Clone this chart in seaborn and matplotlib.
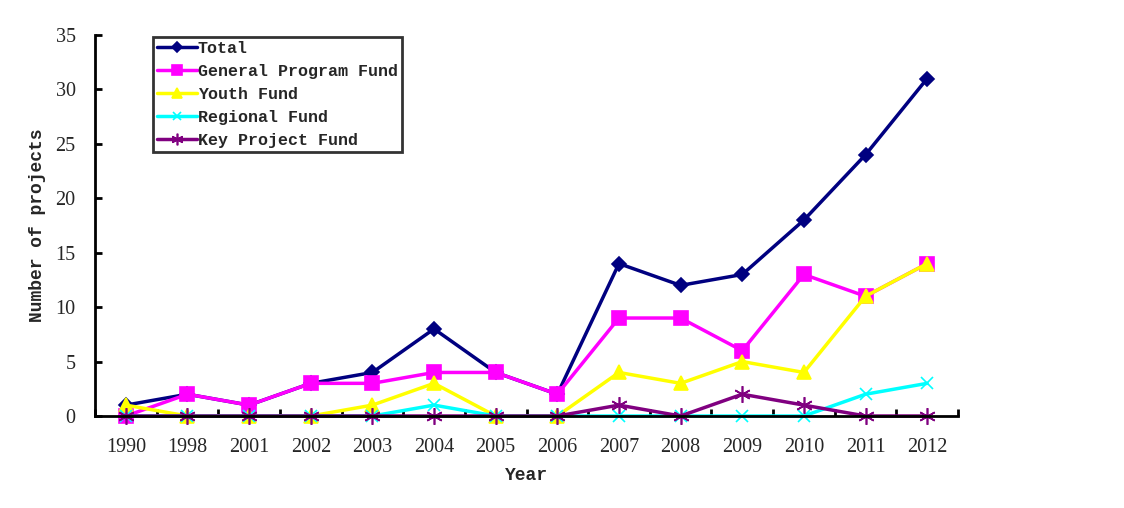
import matplotlib
matplotlib.use("Agg")
import matplotlib.pyplot as plt
import seaborn as sns
import pandas as pd
import numpy as np

years = ["1990", "1998", "2001", "2002", "2003", "2004", "2005", "2006",
         "2007", "2008", "2009", "2010", "2011", "2012"]
total = [1, 2, 1, 3, 4, 8, 4, 2, 14, 12, 13, 18, 24, 31]
general = [0, 2, 1, 3, 3, 4, 4, 2, 9, 9, 6, 13, 11, 14]
youth = [1, 0, 0, 0, 1, 3, 0, 0, 4, 3, 5, 4, 11, 14]
regional = [0, 0, 0, 0, 0, 1, 0, 0, 0, 0, 0, 0, 2, 3]
key_project = [0, 0, 0, 0, 0, 0, 0, 0, 1, 0, 2, 1, 0, 0]

series = [
    ("Total", total, "#000080", "D", 7),
    ("General Program Fund", general, "#FF00FF", "s", 10),
    ("Youth Fund", youth, "#FFFF00", "^", 10),
    ("Regional Fund", regional, "#00FFFF", "x", 9),
    ("Key Project Fund", key_project, "#800080", (6, 2, 0), 12),
]

sns.set_style("white")
plt.rcParams["font.family"] = ["Liberation Mono", "DejaVu Sans Mono"]

fig = plt.figure(figsize=(11.24, 5.08), dpi=100)
ax = fig.add_axes([95 / 1124, 1 - 416 / 508, 863 / 1124, 381 / 508])

xpos = np.arange(len(years))
for name, vals, color, marker, ms in series:
    df = pd.DataFrame({"x": xpos, "y": vals})
    sns.lineplot(data=df, x="x", y="y", ax=ax, color=color, marker=marker,
                 markersize=ms, markeredgecolor=color, markeredgewidth=1.2,
                 linewidth=2.5, label=name, clip_on=False)

ax.set_xlim(-0.5, len(years) - 0.5)
ax.set_ylim(0, 35)
ax.set_yticks(range(0, 36, 5))
ax.set_xticks(xpos)
ax.set_xticklabels(years)
ax.set_xticks(np.arange(-0.5, len(years), 1), minor=True)
ax.tick_params(axis="x", which="major", bottom=True, length=0, pad=16, labelsize=14.5)
ax.tick_params(axis="x", which="minor", bottom=True, length=5, width=2,
               direction="in", color="black")
ax.tick_params(axis="y", which="major", left=True, length=5, width=2, direction="in",
               pad=14, labelsize=14.5, color="black")
for lab in ax.get_xticklabels() + ax.get_yticklabels():
    lab.set_family(["Liberation Serif"])

for s in ["top", "right"]:
    ax.spines[s].set_visible(False)
for s in ["left", "bottom"]:
    ax.spines[s].set_color("black")
    ax.spines[s].set_linewidth(2)

ax.set_xlabel("Year", fontsize=13, fontweight="bold", labelpad=7)
ax.set_ylabel("Number of projects", fontsize=13, fontweight="bold", labelpad=7)

leg = ax.legend(loc="upper left", bbox_to_anchor=(0.067, 0.995), borderaxespad=0,
                fancybox=False, frameon=True, edgecolor="black", fontsize=12,
                handlelength=2.4, handletextpad=0.05, labelspacing=0.48,
                borderpad=0.25, markerscale=0.7)
leg.get_frame().set_linewidth(2)
for t in leg.get_texts():
    t.set_fontweight("bold")

fig.savefig("out.png", dpi=100)
